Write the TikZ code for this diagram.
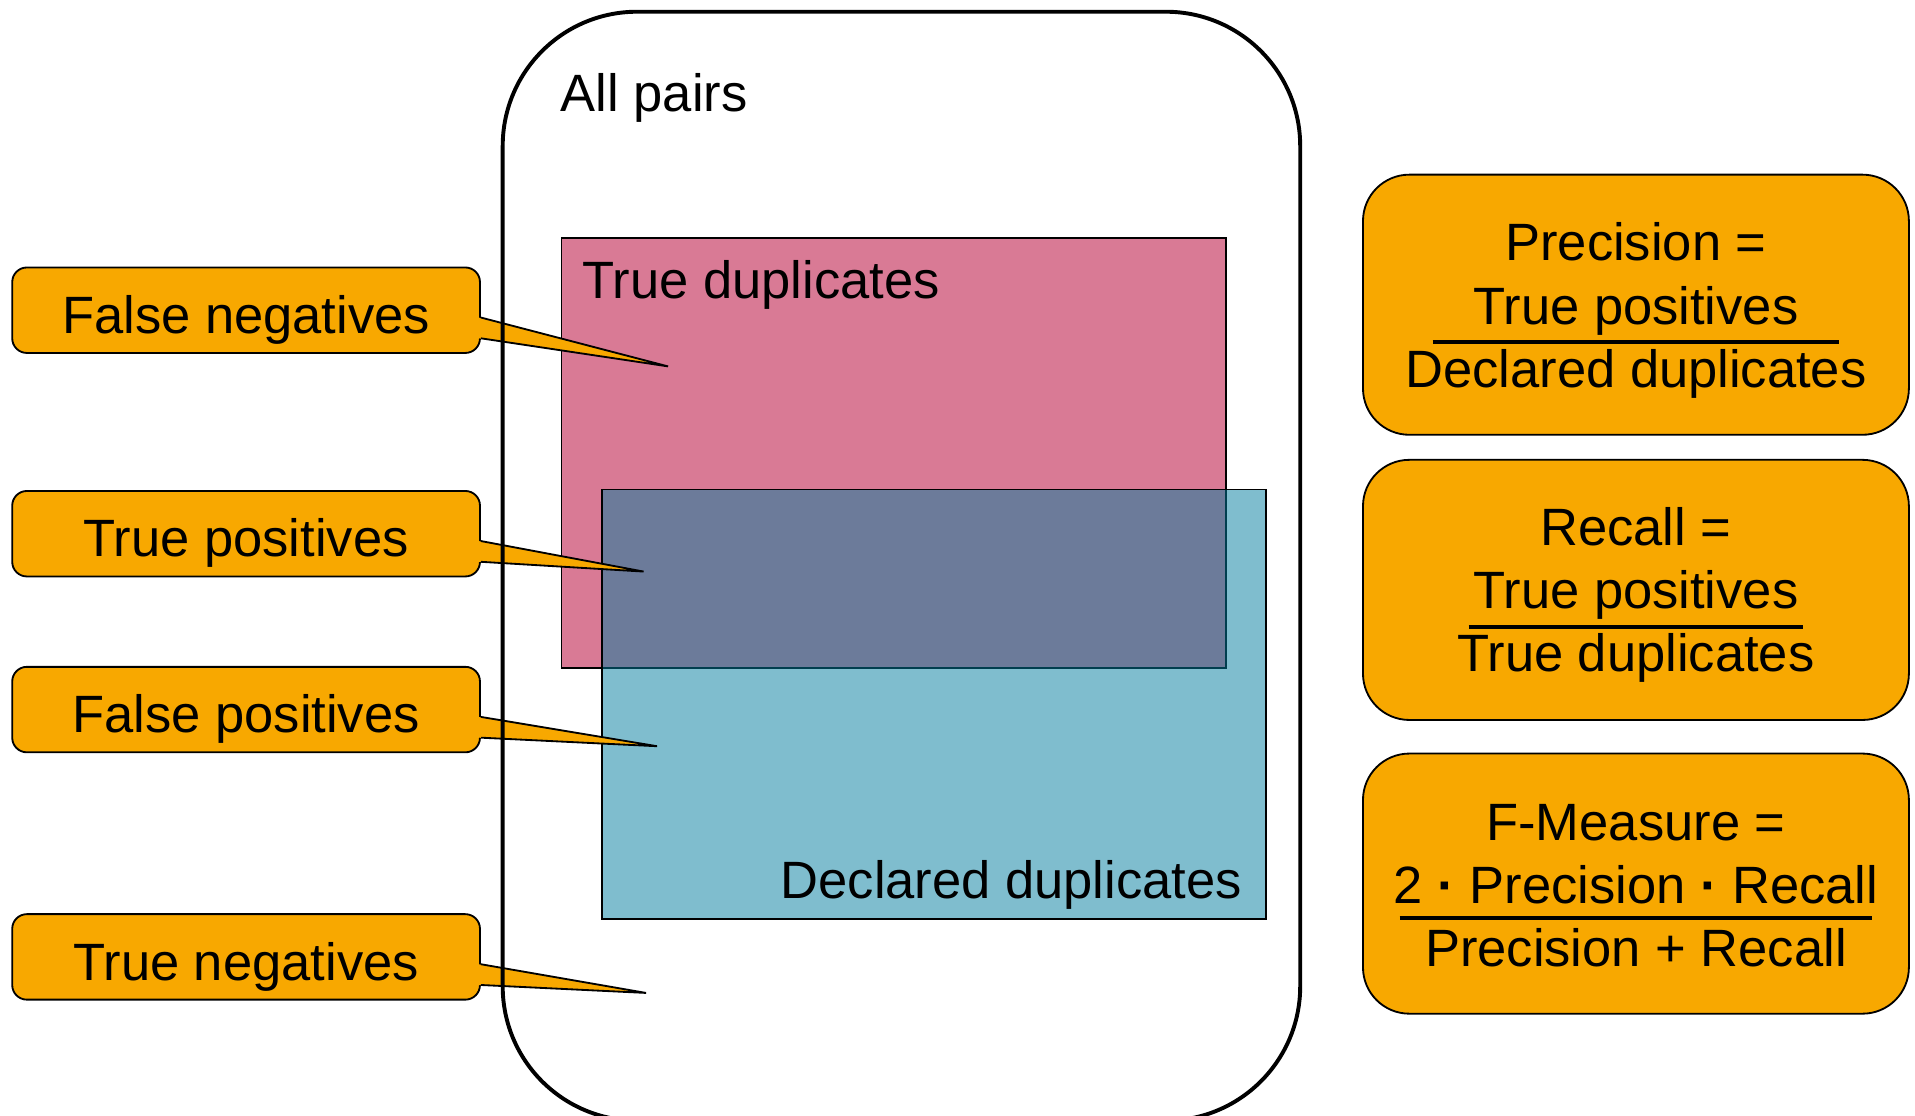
\documentclass[tikz,border=0pt]{standalone}
\usepackage{fontspec}
\setmainfont{Liberation Sans}
\usetikzlibrary{calc}
\definecolor{calloutorange}{RGB}{248,168,0}
\definecolor{truedup}{RGB}{217,122,149}
\definecolor{declblue}{RGB}{1,125,159}
\newcommand{\mdot}{\textbf{·}}

\begin{document}
\begin{tikzpicture}[x=1pt,y=-1pt,
  every node/.style={font=\fontsize{43}{52}\selectfont, inner sep=0pt},
  callout/.style={draw, line width=1.5pt, fill=calloutorange, rounded corners=12pt,
    minimum width=383pt, minimum height=70pt, text height=38pt, text depth=0pt},
  pointeredge/.style={draw, line width=1.5pt, line join=miter},
  formulabox/.style={draw, line width=1.5pt, fill=calloutorange, rounded corners=38pt,
    minimum width=447pt, minimum height=213pt},
  fracbar/.style={line width=3.3pt},
  setbox/.style={draw, line width=1.5pt, anchor=north west,
    minimum width=544pt, minimum height=352pt},
]
\clip (0,0) rectangle (1568,913);
\fill[white] (0,0) rectangle (1568,913);

% the two overlapping sets
\node[setbox, fill=truedup] (truedup) at (459,194) {};
\node[setbox, fill=declblue, fill opacity=0.5] (declared) at (492,400) {};
\node[anchor=base west] (tdlabel) at (477,244) {True duplicates};
\node[anchor=base west] (ddlabel) at (639,736) {Declared duplicates};

% callouts on the left
\node[callout] (fn) at (201.5,254) {False negatives};
\node[callout] (tp) at (201.5,437) {True positives};
\node[callout] (fp) at (201.5,581) {False positives};
\node[callout] (tn) at (201.5,783.5) {True negatives};
\coordinate (fntip) at (547,300);
\coordinate (tptip) at (527,468);
\coordinate (fptip) at (538,611);
\coordinate (tntip) at (529,813);
\foreach \c in {fn,tp,fp,tn}{
  \fill[calloutorange] ($(\c.east)+(-2,6)$) -- (\c tip) -- ($(\c.east)+(-2,23)$) -- cycle;
  \draw[pointeredge] ($(\c.east)+(0,6)$) -- (\c tip) -- ($(\c.east)+(0,23)$);
}

% universe of all pairs
\node[draw, line width=3.2pt, rounded corners=110pt, anchor=north west,
  minimum width=653pt, minimum height=908pt] (allbox) at (410,8) {};
\node[anchor=base west] (allpairs) at (459,91) {All pairs};

% precision
\node[formulabox] (prec) at (1339.5,249.5) {};
\node[anchor=base] (precA) at ($(prec.center)+(0,-36.5)$) {Precision =};
\node[anchor=base] (precN) at ($(prec.center)+(0,15.8)$) {True positives};
\draw[fracbar] ($(prec.center)+(-166.5,30.3)$) -- ($(prec.center)+(166.5,30.3)$);
\node[anchor=base] (precD) at ($(prec.center)+(0,67.9)$) {Declared duplicates};

% recall
\node[formulabox] (rec) at (1339.5,483) {};
\node[anchor=base] (recA) at ($(rec.center)+(0,-36.2)$) {Recall =};
\node[anchor=base] (recN) at ($(rec.center)+(0,15)$) {True positives};
\draw[fracbar] ($(rec.center)+(-137,30.7)$) -- ($(rec.center)+(137,30.7)$);
\node[anchor=base] (recD) at ($(rec.center)+(0,67)$) {True duplicates};

% F-measure
\node[formulabox] (fm) at (1339.5,723.5) {};
\node[anchor=base] (fmA) at ($(fm.center)+(0,-35.7)$) {F-Measure =};
\node[anchor=base] (fmN) at ($(fm.center)+(0,16)$) {2 \mdot{} Precision \mdot{} Recall};
\draw[fracbar] ($(fm.center)+(-193.5,28)$) -- ($(fm.center)+(193.5,28)$);
\node[anchor=base] (fmD) at ($(fm.center)+(0,68)$) {Precision + Recall};
\end{tikzpicture}
\end{document}
